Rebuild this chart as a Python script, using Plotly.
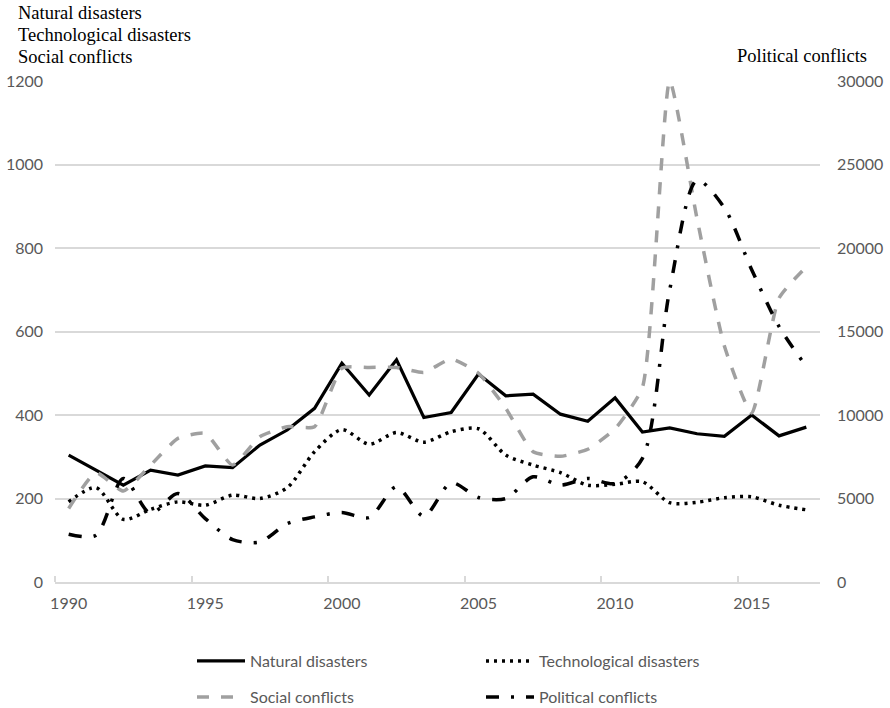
import plotly.graph_objects as go

# Yearly counts, 1990-2017
years = list(range(1990, 2018))

natural_disasters = [304, 268, 232, 268, 256, 278, 274, 328, 364, 416,
                     524, 448, 532, 394, 406, 498, 446, 450, 402, 385,
                     441, 359, 369, 355, 349, 400, 350, 371]

technological_disasters = [192, 226, 150, 174, 192, 184, 208, 200, 226, 312,
                           365, 330, 358, 335, 360, 367, 304, 280, 262, 232,
                           234, 240, 190, 191, 202, 204, 184, 173]

social_conflicts = [176, 262, 218, 280, 344, 356, 280, 348, 372, 372,
                    512, 514, 514, 502, 534, 500, 416, 312, 301, 318,
                    367, 466, 1200, 870, 565, 405, 680, 755]

# plotted against the right-hand axis
political_conflicts = [2860, 2800, 6200, 4100, 5300, 3800, 2540, 2400, 3500, 3900,
                       4160, 3860, 5700, 3940, 5940, 5060, 5000, 6300, 5800, 6200,
                       5900, 7400, 17500, 24060, 22400, 18700, 15300, 12900]

x_tick_years = [1990, 1995, 2000, 2005, 2010, 2015]
left_ticks = [0, 200, 400, 600, 800, 1000, 1200]
right_ticks = [0, 5000, 10000, 15000, 20000, 25000, 30000]

GRID = "#d9d9d9"
LABEL = "#595959"
SANS = "Lato"
SERIF = "Liberation Serif"

fig = go.Figure()

fig.add_trace(go.Scatter(
    x=years, y=natural_disasters, name="Natural disasters", mode="lines",
    line=dict(color="#000000", width=3.2), legend="legend"))

fig.add_trace(go.Scatter(
    x=years, y=technological_disasters, name="Technological disasters", mode="lines",
    line=dict(color="#000000", width=3.5, dash="3px,5px", shape="spline", smoothing=0.8),
    legend="legend"))

fig.add_trace(go.Scatter(
    x=years, y=social_conflicts, name="Social conflicts", mode="lines",
    line=dict(color="#a0a0a0", width=3.5, dash="12px,12px", shape="spline", smoothing=0.5),
    legend="legend2"))

fig.add_trace(go.Scatter(
    x=years, y=political_conflicts, name="Political conflicts", mode="lines", yaxis="y2",
    line=dict(color="#000000", width=3.5, dash="13px,12px,3px,12px", shape="spline", smoothing=0.8),
    legend="legend2"))

W, H = 890, 708
ML, MR, MT, MB = 55, 70, 81, 126
pw = W - ML - MR
ph = H - MT - MB


def px_x(px):
    return (px - ML) / pw


def px_y(py):
    return (H - MB - py) / ph


# legends are placed in container coordinates so they do not shrink the plot
legend_common = dict(
    orientation="h", xanchor="left", yanchor="middle", xref="paper", yref="container",
    entrywidth=226, entrywidthmode="pixels", itemwidth=48,
    font=dict(family=SANS, size=16, color=LABEL), bgcolor="rgba(0,0,0,0)")

fig.update_layout(
    width=W, height=H,
    margin=dict(l=ML, r=MR, t=MT, b=MB, autoexpand=False),
    paper_bgcolor="white", plot_bgcolor="white",
    font=dict(family=SANS, size=16, color=LABEL),
    xaxis=dict(
        range=[1989.5, 2017.5], tickmode="array", tickvals=x_tick_years,
        ticktext=[str(v) for v in x_tick_years], ticks="", showgrid=False,
        zeroline=False, showline=True, linecolor=GRID, linewidth=1.5,
        ticklabelstandoff=6,
        minor=dict(tick0=1989.5, dtick=5, ticks="inside", ticklen=6,
                   tickcolor=GRID, tickwidth=1.5, showgrid=False),
        tickfont=dict(family=SANS, size=16, color=LABEL)),
    yaxis=dict(
        range=[0, 1200], tickmode="array", tickvals=left_ticks, tickformat="d",
        showgrid=True, gridcolor=GRID, gridwidth=1.5, zeroline=False, ticks="",
        ticklabelstandoff=11, tickfont=dict(family=SANS, size=16, color=LABEL)),
    yaxis2=dict(
        range=[0, 30000], tickmode="array", tickvals=right_ticks, tickformat="d",
        overlaying="y", side="right", showgrid=False, zeroline=False, ticks="",
        ticklabelstandoff=16, tickfont=dict(family=SANS, size=16, color=LABEL)),
    legend=dict(x=px_x(192), y=1 - 661 / H, **legend_common),
    legend2=dict(x=px_x(192), y=1 - 697 / H, **legend_common),
)

title_font = dict(family=SERIF, size=18.5, color="#000000")
for text, py in [("Natural disasters", 13),
                 ("Technological disasters", 35),
                 ("Social conflicts", 57)]:
    fig.add_annotation(text=text, xref="paper", yref="paper", x=px_x(16), y=px_y(py),
                       xanchor="left", yanchor="middle", showarrow=False, font=title_font)

fig.add_annotation(text="Political conflicts", xref="paper", yref="paper",
                   x=px_x(869), y=px_y(56), xanchor="right", yanchor="middle",
                   showarrow=False, font=title_font)

fig.write_html("out.html")
